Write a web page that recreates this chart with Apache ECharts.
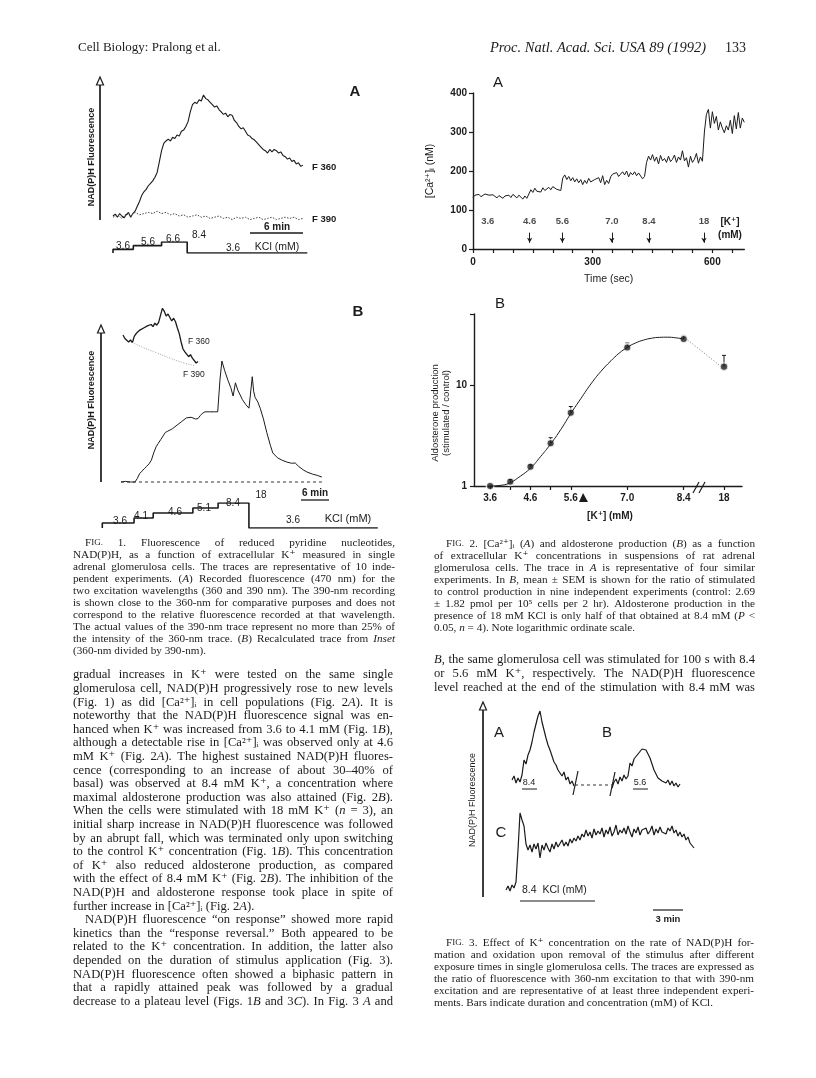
<!DOCTYPE html>
<html><head><meta charset="utf-8">
<script src="https://cdn.jsdelivr.net/npm/echarts@6/dist/echarts.min.js"></script>
<style>html,body{margin:0;padding:0;background:#fff}#main{width:816px;height:1078px}</style>
</head><body><div id="main"></div>
<script>
// ================= DATA =================
// Fig. 1A : time (min), fluorescence (arbitrary units)
const f1aDt = 0.25;
const f1a360 = [0,1.5,-1,2,0,-1.5,1,3,-1,2, 4,8,12,17,20,22,25,27,29,32, 36,45,54,60,62,63.5,62,65,64,67,
  66,70,71,74,78,86,92,94,93,96, 95,100,97,96,94,92,90,91,88,86, 84,85,82,84,83,79,77,74,72,73,
  70,67,66,64,63,61,59,57,55,54, 52,55,53,55,54,52,53,50,49,47, 48,45,46,43,44,41,42];
const f1a390Dt = 0.5;
const f1a390 = [-1,1,-2,2,0,3,1,2,3,2, 4,2,3,1,2,0,1,-1,0,1, -1,0,-2,-1,0,-2,-1,-3,-1,-2,
  -1,-3,-2,-1,-3,-2,-1,-3,-2,-1, -2,-1,-3,-2];
const f1aKclCats = ['3.6','5.6','6.6','8.4'];
const f1aKclTimes = [0, 2.3, 5.5, 8.4, 11.3, 22];
const f1aKclLevels = ['3.6','5.6','6.6','8.4','3.6','3.6'];

// Fig. 1B : recalculated trace (360/390)
const f1bTime = [0,1,2,3,3.5,4,4.5,5,5.5,6,6.5,7,7.5,8,8.5,9,9.5,10,10.5,11,12,13,14,15,16,16.5,17,17.5,18,19,20,20.7,
  21.2,21.6,22.2,22.9,23.5,24,24.5,25,25.5,26,26.7,27.4,27.8,28.1,28.4,28.7,29.3,29.8,30.5,31.2,32,32.5,
  33.5,34.5,35.5,36.5,37.3,38,39,39.8,41,42,43];
const f1bVal = [0,0.5,0,0,3,7,9,11,13,15,18,24,29,32,35,38,41,42,43,44,47,50,53,53.5,52,52.5,55,57,58,58,58,58,
  85,100,92,84,78,71,82,76,72,68,64,61,62,87,75,70,66,61,52,41,30,24,
  20,18,16.5,15.5,15.7,13,10,8.3,6.5,5.5,4.1];
const f1bBaseTime = [0, 43];
const f1bBaseVal = [0, 0];
// Fig. 1B inset
const f1bInsetDt = 0.4;
const f1bInset360 = [50,45,47,40,43,39,48,52,50,57,55,60,58,63,61,65,62,67,64,68,66,88,84,77,80,81,70,74,69,60,
  52,40,30,26,24,19,22,17,15,10,12];
const f1bInset390T = [1.5,4,7,10,13,15.4];
const f1bInset390V = [41,33,25,17,10,6];
const f1bKclCats = ['3.6','4.1','4.6','5.1','8.4','18'];
const f1bKclTimes = [-4,2.8,6.9,15.4,20.8,27.4,32.3,55];
const f1bKclLevels = ['3.6','4.1','4.6','5.1','8.4','18','3.6','3.6'];

// Fig. 2A : [Ca2+]i (nM) every 5 s
const f2aDt = 5;
const f2aCa = [132,138,135,140,134,137,141,136,138,133,139,135,131,137,134,130,136,133,138,132,140,136,131,138,133,128,136,130,127,
  152,145,156,148,153,146,157,150,155,158,152,160,155,153,157,150,
  182,190,178,186,175,183,172,180,170,178,165,176,168,181,172,167,178,174,183,170,188,165,176,168,
  185,192,188,196,186,192,198,190,200,185,196,190,198,188,195,192,180,186,
  222,238,228,242,225,236,218,240,226,232,222,238,224,230,241,222,236,228,252,226,234,210,238,222,230,245,220,236,225,
  300,345,358,310,352,322,340,305,326,310,298,316,305,330,296,342,308,350,310,336,325];
const f2aKLabels = ['3.6','4.6','5.6','7.0','8.4','18'];
const f2aKTimes = [37,142,224,348,441,579];
const f2aLabelLevel = 70, f2aArrowFrom = 42, f2aArrowTo = 16;
const f2aXTicks = [0,50,100,150,200,250,300,350,400,450,500,550,600,650];
const f2aXLabels = [0,300,600];

// Fig. 2B : aldosterone (stimulated/control) vs [K+]
const f2bK = [3.6,4.1,4.6,5.1,5.6,7.0,8.4];
const f2bMean = [1.0,1.10,1.55,2.65,5.3,23.4,28.3];
const f2bUpper = [1.0,1.16,1.62,3.0,6.1,25.8,30.7];
const f2bKLabels = [3.6,4.6,5.6,7.0,8.4];
const f2bK18 = [18], f2bMean18 = [15.1], f2bUpper18 = [19.5];
const f2bCurveK = [3.6,3.9,4.1,4.35,4.6,4.85,5.1,5.35,5.6,5.85,6.1,6.35,6.6,6.8,7.0,7.2,7.4,7.6,7.8,8.0,8.2,8.4];
const f2bCurveV = [1.0,1.02,1.08,1.25,1.5,1.95,2.6,3.6,5.2,7.3,10.2,13.6,17.3,20.5,23.4,25.8,27.6,28.8,29.4,29.5,29.1,28.3];

// Fig. 3 : time (min), fluorescence ratio (arbitrary)
const f3Dt = 0.2;
const f3aStart = 0.6;
const f3a = [120,124,117,122,118,125,140,136,145,150,158,168,176,184,189,178,170,162,155,150,144,138,135,130,127,124,128,120,123,116,119,114];
const f3bStart = 10.6;
const f3b = [112,118,121,116,123,119,125,121,124,137,134,141,143,146,148,151,149,150,146,142,136,130,126,122,124,119,121,117,120,115,119,114,117,113,116];
const f3cStart = 0;
const f3c = [10,14,9,15,12,18,50,87,80,74, 56,50,55,48,56,51,57,42,55,50, 57,52,48,56,51,58,53,55,60,54,
  58,54,61,57,62,59,64,60,66,63, 70,64,68,62,71,65,69,66,72,63, 70,66,73,64,68,75,65,70,67,72,
  66,74,68,63,71,67,73,65,70,68, 72,66,69,74,65,71,67,73,68,70, 66,72,69,74,67,70,64,68,63,66, 60,63,57,55,52];
const f3GapT = [6.9, 10.6], f3GapV = [115, 115];

// ================= STYLE =================
const SERIF = '"Liberation Serif","DejaVu Serif",serif';
const SANS = '"Liberation Sans","DejaVu Sans",sans-serif';
const INK = '#1b1b1b';

const seriesXY = (start, dt, arr) => arr.map((v, i) => [start + i * dt, v]);
const pairs = (xs, ys) => xs.map((x, i) => [x, ys[i]]);

const chart = echarts.init(document.getElementById('main'), null, {renderer: 'canvas', width: 816, height: 1078});

const hiddenX = (g, min, max) => ({gridIndex: g, type: 'value', min, max, show: false});
const hiddenY = (g, min, max) => ({gridIndex: g, type: 'value', min, max, show: false});
const axLine = {show: true, lineStyle: {color: INK, width: 1.4}};
const tickFont = {color: INK, fontFamily: SANS, fontWeight: 'bold', fontSize: 10};

const trace = (xi, data, extra) => Object.assign({
  type: 'line', xAxisIndex: xi, yAxisIndex: xi, data, symbol: 'none', clip: false, silent: true,
  lineStyle: {color: INK, width: 1}, animation: false
}, extra || {});

function errBar(params, api) {
  const k = api.value(0), m = api.value(1), u = api.value(2);
  if (!(u > m)) return null;
  const p0 = api.coord([k, m]), p1 = api.coord([k, u]);
  return {type: 'group', children: [
    {type: 'line', shape: {x1: p0[0], y1: p0[1], x2: p1[0], y2: p1[1]}, style: {stroke: INK, lineWidth: 1}},
    {type: 'line', shape: {x1: p1[0] - 2, y1: p1[1], x2: p1[0] + 2, y2: p1[1]}, style: {stroke: INK, lineWidth: 1}}
  ]};
}

const option = {
  animation: false,
  grid: [
    {left: 113, top: 95, width: 194.3, height: 121},
    {left: 113, top: 242, width: 194.3, height: 11},
    {left: 121, top: 361, width: 210.2, height: 121},
    {left: 123, top: 300, width: 75, height: 70},
    {left: 102.3, top: 503, width: 275.5, height: 25},
    {left: 473, top: 93, width: 271.3, height: 156},
    {left: 474, top: 314, width: 223, height: 172},
    {left: 697, top: 314, width: 45, height: 172},
    {left: 506, top: 700, width: 200, height: 200}
  ],
  xAxis: [
    hiddenX(0, 0, 22), hiddenX(1, 0, 22), hiddenX(2, 0, 45), hiddenX(3, 0, 16), hiddenX(4, -4, 55),
    {gridIndex: 5, type: 'value', min: 0, max: 680, axisLine: axLine,
      axisTick: {show: true, length: 4, customValues: f2aXTicks, lineStyle: {color: INK, width: 1.2}},
      axisLabel: {customValues: f2aXLabels, margin: 8, ...tickFont}, splitLine: {show: false},
      name: 'Time (sec)', nameLocation: 'middle', nameGap: 25,
      nameTextStyle: {fontFamily: SANS, fontSize: 10.5, color: INK}},
    {gridIndex: 6, type: 'value', min: 3.2, max: 8.73, axisLine: axLine,
      axisTick: {show: true, length: 4, customValues: f2bK, lineStyle: {color: INK, width: 1.2}},
      axisLabel: {customValues: f2bKLabels, formatter: v => v.toFixed(1), margin: 7, ...tickFont}, splitLine: {show: false}},
    {gridIndex: 7, type: 'value', min: 16.5, max: 19, axisLine: axLine,
      axisTick: {show: true, length: 4, customValues: f2bK18, lineStyle: {color: INK, width: 1.2}},
      axisLabel: {customValues: f2bK18, margin: 7, ...tickFont}, splitLine: {show: false}},
    hiddenX(8, 0, 20)
  ],
  yAxis: [
    hiddenY(0, 0, 100),
    {gridIndex: 1, type: 'category', data: f1aKclCats, boundaryGap: false, show: false},
    hiddenY(2, 0, 100), hiddenY(3, 0, 100),
    {gridIndex: 4, type: 'category', data: f1bKclCats, boundaryGap: false, show: false},
    {gridIndex: 5, type: 'value', min: 0, max: 400, interval: 100, axisLine: axLine,
      axisTick: {show: true, length: 4, lineStyle: {color: INK, width: 1.2}},
      axisLabel: {margin: 6, ...tickFont}, splitLine: {show: false},
      name: '[Ca²⁺]ᵢ (nM)', nameLocation: 'middle', nameGap: 37,
      nameTextStyle: {fontFamily: SANS, fontSize: 10.5, color: INK}},
    {gridIndex: 6, type: 'log', logBase: 10, min: 1, max: 50, axisLine: axLine,
      axisTick: {show: true, length: 4, lineStyle: {color: INK, width: 1.2}},
      axisLabel: {margin: 7, ...tickFont, formatter: v => (Math.abs(v - 1) < 1e-6 ? '1' : Math.abs(v - 10) < 1e-6 ? '10' : '')},
      splitLine: {show: false}, minorTick: {show: false}},
    {gridIndex: 7, type: 'log', logBase: 10, min: 1, max: 50, show: false},
    hiddenY(8, 0, 200)
  ],
  series: [
    // Fig 1A
    trace(0, seriesXY(0, f1aDt, f1a360), {lineStyle: {color: INK, width: 1.1}}),
    trace(0, seriesXY(0, f1a390Dt, f1a390), {lineStyle: {color: '#444', width: 1, type: [1.5, 1.5]}}),
    trace(1, pairs(f1aKclTimes, f1aKclLevels), {step: 'end', lineStyle: {color: INK, width: 1.6}}),
    // Fig 1B
    trace(2, pairs(f1bTime, f1bVal), {lineStyle: {color: INK, width: 1}}),
    trace(2, pairs(f1bBaseTime, f1bBaseVal), {lineStyle: {color: '#333', width: 1, type: [3, 3]}}),
    trace(3, seriesXY(0, f1bInsetDt, f1bInset360), {lineStyle: {color: INK, width: 1.3}}),
    trace(3, pairs(f1bInset390T, f1bInset390V), {smooth: true, lineStyle: {color: '#888', width: 0.8, type: [1, 1.5]}}),
    trace(4, pairs(f1bKclTimes, f1bKclLevels), {step: 'end', lineStyle: {color: INK, width: 1.6}}),
    // Fig 2A
    trace(5, seriesXY(0, f2aDt, f2aCa), {lineStyle: {color: INK, width: 1}}),
    {type: 'scatter', xAxisIndex: 5, yAxisIndex: 5, silent: true, symbolSize: 0.1,
      itemStyle: {color: 'transparent'},
      data: f2aKTimes.map((t, i) => ({name: f2aKLabels[i], value: [t, f2aLabelLevel]})),
      label: {show: true, position: 'inside', formatter: p => p.name, color: INK, fontFamily: SANS, fontWeight: 'bold', fontSize: 9.5},
      markLine: {silent: true, symbol: ['none', 'arrow'], symbolSize: [4, 5], label: {show: false},
        lineStyle: {color: INK, width: 1, type: 'solid'},
        data: f2aKTimes.slice(1).map(t => [{coord: [t, f2aArrowFrom]}, {coord: [t, f2aArrowTo]}])}},
    // Fig 2B
    trace(6, pairs(f2bCurveK, f2bCurveV), {smooth: true, lineStyle: {color: INK, width: 1}}),
    {type: 'custom', xAxisIndex: 6, yAxisIndex: 6, silent: true, clip: false,
      data: f2bK.map((k, i) => [k, f2bMean[i], f2bUpper[i]]), renderItem: errBar},
    {type: 'scatter', xAxisIndex: 6, yAxisIndex: 6, silent: true, symbolSize: 7.5,
      itemStyle: {color: INK, borderColor: '#fff', borderWidth: 1.5}, data: pairs(f2bK, f2bMean)},
    {type: 'custom', xAxisIndex: 7, yAxisIndex: 7, silent: true, clip: false,
      data: f2bK18.map((k, i) => [k, f2bMean18[i], f2bUpper18[i]]), renderItem: errBar},
    {type: 'scatter', xAxisIndex: 7, yAxisIndex: 7, silent: true, symbolSize: 7.5,
      itemStyle: {color: INK, borderColor: '#fff', borderWidth: 1}, data: pairs(f2bK18, f2bMean18)},
    // Fig 3
    trace(8, seriesXY(f3aStart, f3Dt, f3a), {lineStyle: {color: INK, width: 1.2}}),
    trace(8, seriesXY(f3bStart, f3Dt, f3b), {lineStyle: {color: INK, width: 1.2}}),
    trace(8, seriesXY(f3cStart, f3Dt, f3c), {lineStyle: {color: INK, width: 1.2}}),
    trace(8, pairs(f3GapT, f3GapV), {lineStyle: {color: '#333', width: 1, type: [3, 3]}})
  ]
};

chart.setOption(option);

// ================= TEXT / DECORATION =================
const G = [];
const mctx = document.createElement('canvas').getContext('2d');
const fontOf = (size, it, fam, w) => (it ? 'italic ' : '') + (w ? w + ' ' : '') + size + 'px ' + fam;
function measure(t, font) { mctx.font = font; return mctx.measureText(t).width; }
function txt(t, x, y, o) {
  o = o || {};
  const align = o.align || 'left';
  return {type: 'text', x, y, rotation: o.rot || 0, silent: true, z: 50,
    style: {text: t, font: o.font, fill: o.fill || INK, align, verticalAlign: 'middle', textAlign: align, textVerticalAlign: 'middle'}};
}
function line(x1, y1, x2, y2, w, dash, col) {
  return {type: 'line', silent: true, z: 50, shape: {x1, y1, x2, y2}, style: {stroke: col || INK, lineWidth: w || 1, lineDash: dash || null}};
}
function parseSegs(word) {
  const out = []; let it = false, sm = false, cur = '';
  for (const ch of word) {
    if (ch === '*' || ch === '^') { if (cur) out.push({t: cur, it, sm}); cur = ''; if (ch === '*') it = !it; else sm = !sm; }
    else cur += ch;
  }
  if (cur) out.push({t: cur, it, sm});
  return out;
}
function addPara(lines, o) {
  lines.forEach((raw, i) => {
    let s = raw, just = true, ind = 0;
    if (s.endsWith('¶')) { just = false; s = s.slice(0, -1); }
    if (s.startsWith('>')) { ind = o.indent; s = s.slice(1); }
    const words = s.split(/ +/).filter(Boolean);
    const parts = words.map(w => parseSegs(w).map(p => {
      const f = fontOf(p.sm ? o.size * 0.8 : o.size, p.it, SERIF);
      return {t: p.t, f, w: measure(p.t, f)};
    }));
    const ww = parts.map(ps => ps.reduce((a, p) => a + p.w, 0));
    const tot = ww.reduce((a, b) => a + b, 0);
    const sp = measure(' ', fontOf(o.size, false, SERIF));
    let gap = sp;
    if (just && words.length > 1) gap = Math.max(sp * 0.45, (o.x1 - o.x0 - ind - tot) / (words.length - 1));
    let x = o.x0 + ind; const y = o.y0 + i * o.lh;
    parts.forEach(ps => { ps.forEach(p => { G.push(txt(p.t, x, y, {font: p.f})); x += p.w; }); x += gap; });
  });
}
function arrowAxis(x, yTop, yBot) {
  G.push(line(x, yTop + 7, x, yBot, 1.7));
  G.push({type: 'polygon', silent: true, z: 51, shape: {points: [[x, yTop], [x - 3.5, yTop + 8], [x + 3.5, yTop + 8]]},
    style: {fill: '#fff', stroke: INK, lineWidth: 1.2}});
}

// Header
G.push(txt('Cell Biology: Pralong et al.', 78, 48, {font: fontOf(13, false, SERIF)}));
G.push(txt('Proc. Natl. Acad. Sci. USA 89 (1992)', 706, 48, {font: fontOf(14.5, true, SERIF), align: 'right'}));
G.push(txt('133', 746, 48, {font: fontOf(14, false, SERIF), align: 'right'}));

// Fig 1A decorations
arrowAxis(100, 77, 220);
G.push(txt('NAD(P)H Fluorescence', 92, 157, {font: fontOf(9, false, SANS, 'bold'), align: 'center', rot: Math.PI / 2}));
G.push(txt('A', 355, 92, {font: fontOf(15, false, SANS, 'bold'), align: 'center'}));
G.push(txt('F 360', 312, 167, {font: fontOf(9.5, false, SANS, 'bold')}));
G.push(txt('F 390', 312, 219, {font: fontOf(9.5, false, SANS, 'bold')}));
G.push(txt('6 min', 277, 227, {font: fontOf(10, false, SANS, 'bold'), align: 'center'}));
G.push(line(250, 233, 303, 233, 1.3));
[['3.6', 123, 246.5], ['5.6', 148, 242.5], ['6.6', 173, 239], ['8.4', 199, 235], ['3.6', 233, 248]].forEach(a =>
  G.push(txt(a[0], a[1], a[2], {font: fontOf(10, false, SANS), align: 'center'})));
G.push(txt('KCl (mM)', 277, 247, {font: fontOf(10.5, false, SANS), align: 'center'}));

// Fig 1B decorations
arrowAxis(101, 325, 482);
G.push(txt('NAD(P)H Fluorescence', 92, 400, {font: fontOf(9, false, SANS, 'bold'), align: 'center', rot: Math.PI / 2}));
G.push(txt('B', 358, 312, {font: fontOf(15, false, SANS, 'bold'), align: 'center'}));
G.push(txt('F 360', 188, 342, {font: fontOf(8.5, false, SANS)}));
G.push(txt('F 390', 183, 375, {font: fontOf(8.5, false, SANS)}));
G.push(txt('6 min', 315, 493, {font: fontOf(10, false, SANS, 'bold'), align: 'center'}));
G.push(line(301, 500, 329, 500, 1.3));
[['3.6', 120, 521], ['4.1', 141, 516.5], ['4.6', 175, 512], ['5.1', 204, 508.5], ['8.4', 233, 503.5], ['18', 261, 495.5], ['3.6', 293, 520.5]].forEach(a =>
  G.push(txt(a[0], a[1], a[2], {font: fontOf(10, false, SANS), align: 'center'})));
G.push(txt('KCl (mM)', 348, 519, {font: fontOf(11, false, SANS), align: 'center'}));

// Fig 2A decorations
G.push(txt('A', 498, 83, {font: fontOf(15, false, SANS), align: 'center'}));
G.push(txt('[K⁺]', 730, 222, {font: fontOf(10, false, SANS, 'bold'), align: 'center'}));
G.push(txt('(mM)', 730, 235, {font: fontOf(10, false, SANS, 'bold'), align: 'center'}));

// Fig 2B decorations
G.push(txt('B', 500, 304, {font: fontOf(15, false, SANS), align: 'center'}));
G.push(txt('Aldosterone production', 435, 413, {font: fontOf(9.5, false, SANS), align: 'center', rot: Math.PI / 2}));
G.push(txt('(stimulated / control)', 446, 413, {font: fontOf(9.5, false, SANS), align: 'center', rot: Math.PI / 2}));
G.push(txt('[K⁺] (mM)', 610, 516, {font: fontOf(10, false, SANS, 'bold'), align: 'center'}));
G.push({type: 'polygon', silent: true, z: 52, shape: {points: [[579, 502], [583, 493], [588, 502]]}, style: {fill: INK}});
G.push(line(693, 493, 699, 482, 1.2));
G.push(line(699, 493, 705, 482, 1.2));
{
  const a = chart.convertToPixel({xAxisIndex: 6, yAxisIndex: 6}, [f2bK[f2bK.length - 1], f2bMean[f2bMean.length - 1]]);
  const b = chart.convertToPixel({xAxisIndex: 7, yAxisIndex: 7}, [f2bK18[0], f2bMean18[0]]);
  G.push(line(a[0] + 4, a[1] + 1, b[0] - 4, b[1] - 1, 1, [1, 2], '#777'));
}

// Fig 3 decorations
arrowAxis(483, 702, 897);
G.push(txt('NAD(P)H Fluorescence', 473, 800, {font: fontOf(9, false, SANS), align: 'center', rot: Math.PI / 2}));
G.push(txt('A', 499, 733, {font: fontOf(15, false, SANS), align: 'center'}));
G.push(txt('B', 607, 733, {font: fontOf(15, false, SANS), align: 'center'}));
G.push(txt('C', 501, 833, {font: fontOf(15, false, SANS), align: 'center'}));
G.push(txt('8.4', 529, 783, {font: fontOf(9, false, SANS), align: 'center'}));
G.push(line(522, 789, 537, 789, 1));
G.push(txt('5.6', 640, 783, {font: fontOf(9, false, SANS), align: 'center'}));
G.push(line(633, 789, 648, 789, 1));
G.push(line(573, 795, 578, 771, 1.2));
G.push(line(610, 796, 615, 772, 1.2));
G.push(txt('8.4  KCl (mM)', 522, 890, {font: fontOf(10.5, false, SANS)}));
G.push(line(520, 901, 595, 901, 1.2));
G.push(line(653, 910, 683, 910, 1.2));
G.push(txt('3 min', 668, 919, {font: fontOf(9.5, false, SANS, 'bold'), align: 'center'}));

// ---------- Captions and body text ----------
const fig1Caption = [
  '>F^IG.^ 1.  Fluorescence of reduced pyridine nucleotides,',
  'NAD(P)H, as a function of extracellular K⁺ measured in single',
  'adrenal glomerulosa cells. The traces are representative of 10 inde-',
  'pendent experiments. (*A*) Recorded fluorescence (470 nm) for the',
  'two excitation wavelengths (360 and 390 nm). The 390-nm recording',
  'is shown close to the 360-nm for comparative purposes and does not',
  'correspond to the relative fluorescence recorded at that wavelength.',
  'The actual values of the 390-nm trace represent no more than 25% of',
  'the intensity of the 360-nm trace. (*B*) Recalculated trace from *Inset*',
  '(360-nm divided by 390-nm).¶'
];
const leftBody = [
  'gradual increases in K⁺ were tested on the same single',
  'glomerulosa cell, NAD(P)H progressively rose to new levels',
  '(Fig. 1) as did [Ca²⁺]ᵢ in cell populations (Fig. 2*A*). It is',
  'noteworthy that the NAD(P)H fluorescence signal was en-',
  'hanced when K⁺ was increased from 3.6 to 4.1 mM (Fig. 1*B*),',
  'although a detectable rise in [Ca²⁺]ᵢ was observed only at 4.6',
  'mM K⁺ (Fig. 2*A*). The highest sustained NAD(P)H fluores-',
  'cence (corresponding to an increase of about 30–40% of',
  'basal) was observed at 8.4 mM K⁺, a concentration where',
  'maximal aldosterone production was also attained (Fig. 2*B*).',
  'When the cells were stimulated with 18 mM K⁺ (*n* = 3), an',
  'initial sharp increase in NAD(P)H fluorescence was followed',
  'by an abrupt fall, which was terminated only upon switching',
  'to the control K⁺ concentration (Fig. 1*B*). This concentration',
  'of K⁺ also reduced aldosterone production, as compared',
  'with the effect of 8.4 mM K⁺ (Fig. 2*B*). The inhibition of the',
  'NAD(P)H and aldosterone response took place in spite of',
  'further increase in [Ca²⁺]ᵢ (Fig. 2*A*).¶',
  '>NAD(P)H fluorescence “on response” showed more rapid',
  'kinetics than the “response reversal.” Both appeared to be',
  'related to the K⁺ concentration. In addition, the latter also',
  'depended on the duration of stimulus application (Fig. 3).',
  'NAD(P)H fluorescence often showed a biphasic pattern in',
  'that a rapidly attained peak was followed by a gradual',
  'decrease to a plateau level (Figs. 1*B* and 3*C*). In Fig. 3 *A* and'
];
const fig2Caption = [
  '>F^IG.^ 2.  [Ca²⁺]ᵢ (*A*) and aldosterone production (*B*) as a function',
  'of extracellular K⁺ concentrations in suspensions of rat adrenal',
  'glomerulosa cells. The trace in *A* is representative of four similar',
  'experiments. In *B*, mean ± SEM is shown for the ratio of stimulated',
  'to control production in nine independent experiments (control: 2.69',
  '± 1.82 pmol per 10⁵ cells per 2 hr). Aldosterone production in the',
  'presence of 18 mM KCl is only half of that obtained at 8.4 mM (*P* <',
  '0.05, *n* = 4). Note logarithmic ordinate scale.¶'
];
const rightBody = [
  '*B*, the same glomerulosa cell was stimulated for 100 s with 8.4',
  'or 5.6 mM K⁺, respectively. The NAD(P)H fluorescence',
  'level reached at the end of the stimulation with 8.4 mM was'
];
const fig3Caption = [
  '>F^IG.^ 3.  Effect of K⁺ concentration on the rate of NAD(P)H for-',
  'mation and oxidation upon removal of the stimulus after different',
  'exposure times in single glomerulosa cells. The traces are expressed as',
  'the ratio of fluorescence with 360-nm excitation to that with 390-nm',
  'excitation and are representative of at least three independent experi-',
  'ments. Bars indicate duration and concentration (mM) of KCl.¶'
];
addPara(fig1Caption, {x0: 73, x1: 395, y0: 543, lh: 12, size: 11.2, indent: 12});
addPara(leftBody, {x0: 73, x1: 393, y0: 675, lh: 13.6, size: 12.6, indent: 12});
addPara(fig2Caption, {x0: 434, x1: 755, y0: 544, lh: 12, size: 11.2, indent: 12});
addPara(rightBody, {x0: 434, x1: 755, y0: 660, lh: 13.6, size: 12.6, indent: 12});
addPara(fig3Caption, {x0: 434, x1: 754, y0: 943, lh: 12, size: 11.2, indent: 12});

chart.setOption({graphic: {elements: G}});
</script></body></html>
